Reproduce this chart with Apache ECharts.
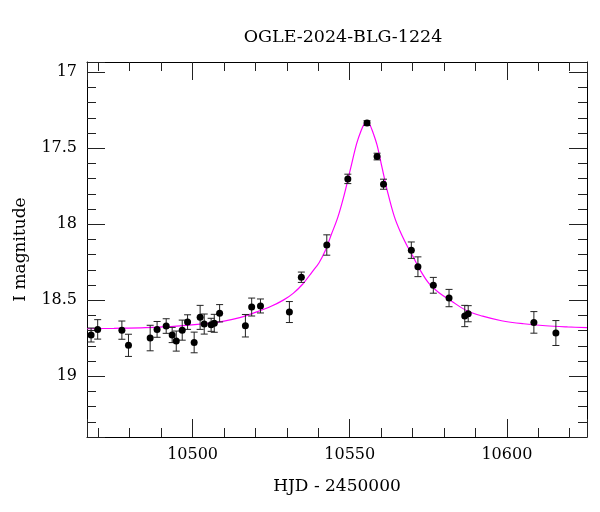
<!DOCTYPE html>
<html>
<head>
<meta charset="utf-8">
<script src="https://cdn.jsdelivr.net/npm/echarts@6.0.0/dist/echarts.min.js"></script>
<style>
  html, body { margin: 0; padding: 0; background: #fff; }
  #chart { width: 600px; height: 512px; }
</style>
</head>
<body>
<div id="chart"></div>
<script>
// observations (HJD - 2450000, I mag, error)
const obsHjd = [10467.7, 10469.8, 10477.5, 10479.6, 10486.5, 10488.7, 10491.6, 10493.5, 10494.8, 10496.7,
  10498.4, 10500.5, 10502.4, 10503.7, 10505.9, 10506.9, 10508.6, 10516.8, 10518.8, 10521.6,
  10530.8, 10534.6, 10542.7, 10549.4, 10555.5, 10558.7, 10560.75, 10569.6, 10571.7, 10576.6,
  10581.6, 10586.6, 10587.7, 10608.6, 10615.6]
const obsMag = [18.729, 18.692, 18.697, 18.797, 18.749, 18.692, 18.670, 18.729, 18.769, 18.697,
  18.644, 18.778, 18.613, 18.657, 18.662, 18.652, 18.586, 18.668, 18.545, 18.538,
  18.578, 18.349, 18.137, 17.702, 17.335, 17.555, 17.737, 18.171, 18.280, 18.402,
  18.486, 18.604, 18.589, 18.646, 18.716]
const obsErr = [0.046, 0.064, 0.060, 0.073, 0.084, 0.052, 0.048, 0.050, 0.066, 0.066,
  0.048, 0.068, 0.079, 0.066, 0.043, 0.059, 0.057, 0.074, 0.059, 0.046,
  0.069, 0.034, 0.067, 0.031, 0.016, 0.022, 0.033, 0.054, 0.065, 0.052,
  0.057, 0.070, 0.053, 0.071, 0.082]

// model curve
const modelHjd = [10466.4, 10475, 10485, 10495, 10505, 10510, 10515, 10520, 10525, 10529,
  10532, 10535, 10538, 10540.2, 10542.2, 10544.2, 10546.2, 10548.2, 10550.2, 10552.2,
  10553.7, 10554.7, 10555.5, 10556.2, 10557.2, 10558.7, 10560.2, 10562.2, 10564.2, 10566.2,
  10568.2, 10570.2, 10572.2, 10575.2, 10578.3, 10582.3, 10587.3, 10592.3, 10598.3, 10605.3,
  10612.3, 10619.3, 10625.5]
const modelMag = [18.688, 18.685, 18.680, 18.670, 18.652, 18.638, 18.615, 18.580, 18.540, 18.498,
  18.455, 18.395, 18.315, 18.255, 18.175, 18.065, 17.955, 17.810, 17.640, 17.470,
  17.380, 17.338, 17.325, 17.338, 17.385, 17.480, 17.620, 17.800, 17.950, 18.055,
  18.140, 18.215, 18.295, 18.390, 18.450, 18.505, 18.570, 18.605, 18.635, 18.655,
  18.668, 18.676, 18.681]

const X_MIN = 10466.4
const X_MAX = 10625.5
const Y_MIN = 16.933
const Y_MAX = 19.4

const FONT = 'DejaVu Serif'

const points = obsHjd.map((t, i) => [t, obsMag[i]])
const errBars = obsHjd.map((t, i) => [t, obsMag[i] - obsErr[i], obsMag[i] + obsErr[i]])
const model = modelHjd.map((t, i) => [t, modelMag[i]])

function axisX(pos, labels) {
  return {
    type: 'value',
    position: pos,
    min: X_MIN,
    max: X_MAX,
    splitNumber: 3,
    axisLine: { show: true, onZero: false, lineStyle: { color: '#000', width: 1 } },
    axisTick: { show: true, inside: true, length: 18, lineStyle: { color: '#222', width: 1 } },
    minorTick: { show: true, splitNumber: 5, length: 9, lineStyle: { color: '#222', width: 1 } },
    splitLine: { show: false },
    axisLabel: {
      show: labels,
      showMinLabel: false,
      showMaxLabel: false,
      margin: 10,
      color: '#000',
      fontFamily: FONT,
      fontSize: 16,
      formatter: (v) => String(v),
    },
  }
}

function axisY(pos, labels) {
  return {
    type: 'value',
    position: pos,
    inverse: true,
    min: Y_MIN,
    max: Y_MAX,
    splitNumber: 5,
    axisLine: { show: true, onZero: false, lineStyle: { color: '#000', width: 1 } },
    axisTick: { show: true, inside: true, length: 18, lineStyle: { color: '#222', width: 1 } },
    minorTick: { show: true, splitNumber: 5, length: 9, lineStyle: { color: '#222', width: 1 } },
    splitLine: { show: false },
    axisLabel: {
      show: labels,
      showMinLabel: false,
      showMaxLabel: false,
      margin: 10,
      color: '#000',
      fontFamily: FONT,
      fontSize: 16,
      formatter: (v) => String(v),
    },
  }
}

const xBottom = axisX('bottom', true)
xBottom.name = 'HJD - 2450000'
xBottom.nameLocation = 'middle'
xBottom.nameGap = 41
xBottom.nameTextStyle = { fontFamily: FONT, fontSize: 17, color: '#000' }

const yLeft = axisY('left', true)
yLeft.name = 'I magnitude'
yLeft.nameLocation = 'middle'
yLeft.nameGap = 58
yLeft.nameTextStyle = { fontFamily: FONT, fontSize: 17, color: '#000' }

const myChart = echarts.init(document.getElementById('chart'), null, { renderer: 'canvas' })
myChart.setOption({
  animation: false,
  backgroundColor: '#fff',
  title: {
    text: 'OGLE-2024-BLG-1224',
    left: 338,
    top: 23,
    textAlign: 'center',
    textStyle: { fontFamily: FONT, fontSize: 17.5, fontWeight: 'normal', color: '#000' },
  },
  grid: { left: 87, top: 62, width: 500, height: 375, containLabel: false },
  xAxis: [xBottom, axisX('top', false)],
  yAxis: [yLeft, axisY('right', false)],
  series: [
    {
      name: 'model',
      type: 'line',
      data: model,
      smooth: 0.35,
      showSymbol: false,
      lineStyle: { color: '#ff00ff', width: 1.2 },
      z: 1,
    },
    {
      name: 'errors',
      type: 'custom',
      data: errBars,
      z: 2,
      renderItem: function (params, api) {
        const x = api.value(0)
        const p1 = api.coord([x, api.value(1)])
        const p2 = api.coord([x, api.value(2)])
        const w = 3.5
        const st = { stroke: '#222', lineWidth: 1 }
        return {
          type: 'group',
          children: [
            { type: 'line', shape: { x1: p1[0], y1: p1[1], x2: p2[0], y2: p2[1] }, style: st },
            { type: 'line', shape: { x1: p1[0] - w, y1: p1[1], x2: p1[0] + w, y2: p1[1] }, style: st },
            { type: 'line', shape: { x1: p2[0] - w, y1: p2[1], x2: p2[0] + w, y2: p2[1] }, style: st },
          ],
        }
      },
    },
    {
      name: 'data',
      type: 'scatter',
      data: points,
      symbol: 'circle',
      symbolSize: 7,
      itemStyle: { color: '#000', opacity: 1 },
      z: 3,
    },
  ],
})
</script>
</body>
</html>
